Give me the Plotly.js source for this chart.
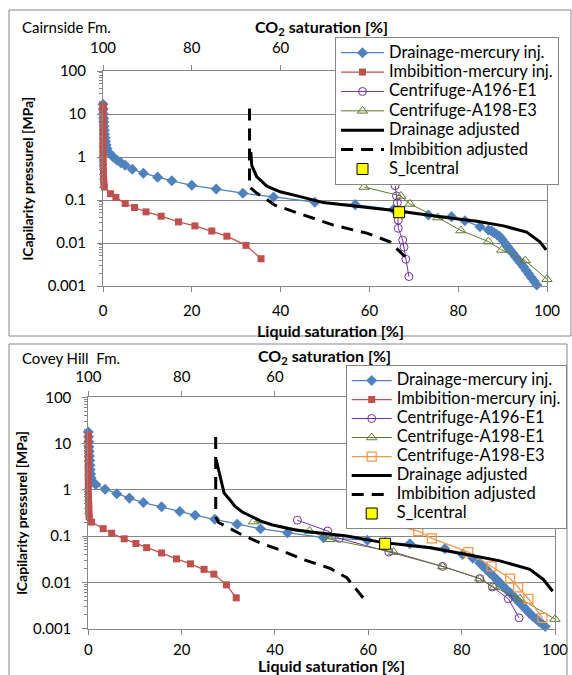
<!DOCTYPE html>
<html>
<head>
<meta charset="utf-8">
<script src="https://cdn.plot.ly/plotly-3.0.1.min.js"></script>
<style>
  html, body { margin: 0; padding: 0; background: #ffffff; }
  #chart { width: 572px; height: 675px; }
</style>
</head>
<body>
<div id="chart"></div>
<script>
// ---------- Cairnside Fm. (upper panel) ----------
const cDrainHgSl = [0.0,0.05,0.1,0.15,0.2,0.25,0.3,0.35,0.45,0.55,0.7,0.9,1.5,2.3,3.1,4.0,5.0,6.6,9.1,12.3,15.5,20.0,25.5,31.5,38.4,47.7,56.8,65.4,73.3,78.5,81.5,84.9,86.8,87.5,88.1,88.7,89.3,89.9,90.5,91.1,91.7,92.3,92.9,93.5,94.1,94.7,95.3,95.9,96.5,97.1,97.7];
const cDrainHgPc = [16.8,13,10,8.0,6.5,5.2,4.2,3.4,2.8,2.3,1.9,1.58,1.22,1.0,0.85,0.74,0.64,0.52,0.42,0.34,0.28,0.22,0.18,0.144,0.118,0.089,0.078,0.060,0.045,0.041,0.033,0.024,0.020,0.019,0.0174,0.0158,0.0144,0.0120,0.0100,0.0083,0.0069,0.0058,0.0048,0.0040,0.0034,0.0028,0.0023,0.0019,0.00155,0.0013,0.00105];

const cImbHgSl = [0,0,0,0,0,0,0,0,0,0,0,0,0,0.05,0.05,0.1,0.1,0.15,0.2,0.3,1.7,2.9,5.0,7.1,9.7,13.1,17.0,20.7,24.5,27.9,32.2,35.6];
const cImbHgPc = [15.4,12,9.5,7.5,6,4.8,3.8,3.0,2.4,1.9,1.5,1.2,0.95,0.75,0.6,0.48,0.38,0.3,0.24,0.2,0.14,0.115,0.083,0.067,0.053,0.042,0.031,0.025,0.019,0.0144,0.0088,0.0043];

const cA196E1Sl = [65.8,66.1,66.3,66.4,66.5,66.5,67.5,67.8,68.2,68.9];
const cA196E1Pc = [0.215,0.124,0.087,0.052,0.034,0.022,0.0117,0.008,0.0042,0.00166];

const cA198E3Sl = [58.8,67.1,69.1,75.4,80.6,86.8,89.8,95.1,100];
const cA198E3Pc = [0.20,0.124,0.081,0.039,0.0195,0.0108,0.0069,0.0039,0.00144];

const cDrainAdjSl = [33.3,33.5,34.6,36.9,39.9,42.1,44.4,49.6,57.1,66.1,75.9,84.2,90.2,95.4,98.4,99.8];
const cDrainAdjPc = [1.3,0.64,0.35,0.21,0.155,0.138,0.12,0.087,0.072,0.056,0.041,0.032,0.025,0.018,0.0107,0.0069];

const cImbAdjSl = [33.0,33.0,34.6,36.5,38.7,43.2,51.9,59.4,64.6,68.4];
const cImbAdjPc = [13.5,0.2,0.145,0.11,0.076,0.053,0.026,0.017,0.0107,0.0044];

const cCentralSl = [66.7];
const cCentralPc = [0.052];

// ---------- Covey Hill Fm. (lower panel) ----------
const vDrainHgSl = [0,0.05,0.1,0.15,0.2,0.25,0.3,0.35,0.4,0.5,0.6,0.8,1.6,3.6,6.1,8.8,11.8,15.7,19.6,22.9,27.1,31.9,36.9,42.7,50.4,59.8,63.6,68.9,76.4,80.2,82.4,83.9,84.6,85.3,86.0,86.8,87.5,88.2,88.9,89.6,90.4,91.1,91.8,92.5,93.2,93.9,94.6,95.3,96.0,96.6,97.3,97.9];
const vDrainHgPc = [17.8,14,11,8.5,6.8,5.4,4.3,3.4,2.7,2.2,1.8,1.5,1.3,1.03,0.82,0.66,0.53,0.43,0.34,0.28,0.23,0.18,0.144,0.118,0.092,0.081,0.072,0.068,0.053,0.040,0.033,0.026,0.022,0.019,0.016,0.0135,0.0115,0.0097,0.0082,0.0069,0.0059,0.0050,0.0042,0.0035,0.0030,0.0025,0.0021,0.0018,0.0016,0.0014,0.00125,0.0011];

const vImbHgSl = [0,0,0,0,0,0,0,0,0,0,0,0,0,0.05,0.05,0.1,0.1,0.15,0.2,0.7,3.2,5.0,7.7,10.2,12.5,15.7,18.9,21.9,24.8,26.9,29.6,31.7];
const vImbHgPc = [15,12,9.5,7.5,6,4.8,3.8,3.0,2.4,1.9,1.5,1.2,0.95,0.75,0.6,0.48,0.38,0.3,0.26,0.20,0.144,0.115,0.087,0.069,0.056,0.043,0.032,0.025,0.019,0.015,0.0088,0.0046];

const vA196E1Sl = [44.8,51.3,53.8,64.4,75.9,83.9,86.6,90.0,92.3];
const vA196E1Pc = [0.22,0.128,0.089,0.045,0.022,0.012,0.0079,0.0044,0.0017];

const vA198E1Sl = [35.4,47.4,51.8,65.4,75.9,83.9,87.0,92.5,100];
const vA198E1Pc = [0.205,0.128,0.085,0.045,0.022,0.012,0.0078,0.0044,0.0016];

const vA198E3Sl = [60.5,70.7,73.6,81.4,86.4,90.4,92.1,94.3,97.3];
const vA198E3Pc = [0.22,0.128,0.089,0.045,0.022,0.012,0.0078,0.0044,0.0017];

const vDrainAdjSl = [27.4,29.1,30.5,31.4,33.0,35.0,37.0,39.3,41.1,44.3,48.2,55.4,63.2,73.2,81.1,88.2,94.6,97.5,99.5];
const vDrainAdjPc = [4.5,0.85,0.58,0.44,0.33,0.26,0.21,0.175,0.16,0.135,0.12,0.1,0.072,0.056,0.040,0.029,0.019,0.0115,0.0064];

const vImbAdjSl = [27.3,27.3,27.9,30.0,32.5,36.8,41.1,46.1,51.8,55.4,58.9];
const vImbAdjPc = [13.9,0.26,0.196,0.149,0.112,0.071,0.05,0.031,0.020,0.0125,0.0046];

const vCentralSl = [63.6];
const vCentralPc = [0.068];

// ---------- names and tick labels ----------
const namesTop = ['Drainage-mercury inj.','Imbibition-mercury inj.','Centrifuge-A196-E1','Centrifuge-A198-E3','Drainage adjusted','Imbibition adjusted','S_lcentral'];
const namesBottom = ['Drainage-mercury inj.','Imbibition-mercury inj.','Centrifuge-A196-E1','Centrifuge-A198-E1','Centrifuge-A198-E3','Drainage adjusted','Imbibition adjusted','S_lcentral'];
const panelLabels = ['Cairnside Fm.', 'Covey Hill\u00a0 Fm.'];
const slTicks = [0, 20, 40, 60, 80, 100];
const co2Ticks = [100, 80, 60];          // the remaining top ticks sit under the legend box
const pcTicks = [0.001, 0.01, 0.1, 1, 10, 100];
const pcTickText = ['0.001', '0.01', '0.1', '1', '10', '100'];
const xTitle = 'Liquid saturation [%]';
const topTitle = 'CO<sub>2</sub> saturation [%]';
const yTitle = 'lCapilarity pressurel [MPa]';

// CO2 saturation is the complement of the liquid saturation
const toCO2 = sl => sl.map(v => 100 - v);

// ---------- styling ----------
const FONT = 'Lato, "Open Sans", sans-serif';
const GREY = '#868686';
const BLUE = '#4F81BD', RED = '#C0504D', PURPLE = '#7030A0', OLIVE = '#5E7A2E', ORANGE = '#F79646';
const W = 572, H = 675;
const LEGEND_TEXT_PX = 16.5;

function entry(name) {
  return '<span style="font-size:' + LEGEND_TEXT_PX + 'px">' + name + '</span>';
}

function style(kind) {
  switch (kind) {
    case 'drainHg': return {mode:'lines+markers', line:{color:BLUE, width:1.25}, marker:{symbol:'diamond', size:8.5, color:BLUE}};
    case 'imbHg':   return {mode:'lines+markers', line:{color:RED, width:1.25}, marker:{symbol:'square', size:7, color:RED}};
    case 'a196':    return {mode:'lines+markers', line:{color:PURPLE, width:1}, marker:{symbol:'circle-open', size:8, color:PURPLE, line:{width:1}}};
    case 'a198g':   return {mode:'lines+markers', line:{color:OLIVE, width:1}, marker:{symbol:'triangle-up-open', size:9, color:OLIVE, line:{width:1}}};
    case 'a198o':   return {mode:'lines+markers', line:{color:ORANGE, width:1.25}, marker:{symbol:'square-open', size:9, color:ORANGE, line:{width:1.25}}};
    case 'drainAdj':return {mode:'lines', line:{color:'#000000', width:3}};
    case 'imbAdj':  return {mode:'lines', line:{color:'#000000', width:3, dash:'12px,8px'}};
    case 'central': return {mode:'markers', marker:{symbol:'square', size:11, color:'#FFFF00', line:{color:'#000000', width:1}}};
  }
}

function trace(x, y, name, kind, xa, ya, legend) {
  return Object.assign({
    type:'scatter', x:x, y:y, name:entry(name), xaxis:xa, yaxis:ya,
    legend:legend, cliponaxis:false, hoverinfo:'skip'
  }, style(kind));
}

const traces = [
  trace(cDrainHgSl, cDrainHgPc, namesTop[0], 'drainHg', 'x', 'y', 'legend'),
  trace(cImbHgSl, cImbHgPc, namesTop[1], 'imbHg', 'x', 'y', 'legend'),
  trace(cA196E1Sl, cA196E1Pc, namesTop[2], 'a196', 'x', 'y', 'legend'),
  trace(cA198E3Sl, cA198E3Pc, namesTop[3], 'a198g', 'x', 'y', 'legend'),
  trace(cDrainAdjSl, cDrainAdjPc, namesTop[4], 'drainAdj', 'x', 'y', 'legend'),
  trace(cImbAdjSl, cImbAdjPc, namesTop[5], 'imbAdj', 'x', 'y', 'legend'),
  // S_lcentral is placed on the CO2-saturation (top) scale
  trace(toCO2(cCentralSl), cCentralPc, namesTop[6], 'central', 'x3', 'y', 'legend'),

  trace(vDrainHgSl, vDrainHgPc, namesBottom[0], 'drainHg', 'x2', 'y2', 'legend2'),
  trace(vImbHgSl, vImbHgPc, namesBottom[1], 'imbHg', 'x2', 'y2', 'legend2'),
  trace(vA196E1Sl, vA196E1Pc, namesBottom[2], 'a196', 'x2', 'y2', 'legend2'),
  trace(vA198E1Sl, vA198E1Pc, namesBottom[3], 'a198g', 'x2', 'y2', 'legend2'),
  trace(vA198E3Sl, vA198E3Pc, namesBottom[4], 'a198o', 'x2', 'y2', 'legend2'),
  trace(vDrainAdjSl, vDrainAdjPc, namesBottom[5], 'drainAdj', 'x2', 'y2', 'legend2'),
  trace(vImbAdjSl, vImbAdjPc, namesBottom[6], 'imbAdj', 'x2', 'y2', 'legend2'),
  trace(toCO2(vCentralSl), vCentralPc, namesBottom[7], 'central', 'x4', 'y2', 'legend2')
];

// minor ticks of the log axis: 2..9 within every decade
const minorPc = [];
for (let d = -3; d < 2; d++) {
  for (let k = 2; k <= 9; k++) minorPc.push(k * Math.pow(10, d));
}

const tickFont = {family:FONT, size:15, color:'#000000'};
const titleFont = {family:FONT, size:16, color:'#000000', weight:'bold'};
const yTitleFont = {family:FONT, size:14, color:'#000000', weight:'bold'};
const labelFont = {family:FONT, size:15, color:'#000000'};

function slAxis(domain, anchor, labelGap) {
  return {
    domain:domain, anchor:anchor, range:[0,100], tickmode:'array', tickvals:slTicks,
    ticktext:slTicks.map(String), showline:true, linecolor:GREY, linewidth:1,
    ticks:'outside', ticklen:5, tickcolor:GREY, showgrid:false, zeroline:false,
    tickfont:tickFont, ticklabelstandoff:labelGap, fixedrange:true
  };
}
function co2Axis(over, anchor, labelGap) {
  return {
    overlaying:over, anchor:anchor, side:'top', range:[100,0], tickmode:'array',
    tickvals:co2Ticks, ticktext:co2Ticks.map(String), showline:true, linecolor:GREY,
    linewidth:1, ticks:'outside', ticklen:5, tickcolor:GREY, showgrid:false,
    zeroline:false, tickfont:tickFont, ticklabelstandoff:labelGap, fixedrange:true
  };
}
function pcAxis(domain, anchor, standoff) {
  return {
    domain:domain, anchor:anchor, type:'log', range:[-3,2], tickmode:'array',
    tickvals:pcTicks, ticktext:pcTickText, showline:true, mirror:true,
    linecolor:GREY, linewidth:1, ticks:'outside', ticklen:5, tickcolor:GREY,
    showgrid:true, gridcolor:GREY, gridwidth:1, zeroline:false, tickfont:tickFont,
    ticklabelstandoff:8, fixedrange:true,
    minor:{tickmode:'array', tickvals:minorPc, ticks:'outside', ticklen:3, tickcolor:GREY, showgrid:false},
    title:{text:yTitle, font:yTitleFont, standoff:standoff}
  };
}

function note(text, x, y, font) {
  return {text:text, xref:'paper', yref:'paper', x:x, y:y, xanchor:'left', yanchor:'middle', showarrow:false, font:font};
}
function centredNote(text, x, y, font) {
  return {text:text, xref:'paper', yref:'paper', x:x, y:y, xanchor:'center', yanchor:'middle', showarrow:false, font:font};
}

const layout = {
  width:W, height:H, margin:{l:0, r:0, t:0, b:0},
  paper_bgcolor:'#ffffff', plot_bgcolor:'#ffffff',
  font:{family:FONT, color:'#000000'},
  xaxis:  slAxis([103/W, 547/W], 'y', 6),
  yaxis:  pcAxis([1-286/H, 1-71/H], 'x', 10),
  xaxis3: co2Axis('x', 'y', 6),
  xaxis2: slAxis([88.3/W, 555/W], 'y2', 2),
  yaxis2: pcAxis([1-628.5/H, 1-397.3/H], 'x2', 2),
  xaxis4: co2Axis('x2', 'y2', 3),
  legend:{x:335/W, y:1-37/H, xanchor:'left', yanchor:'top', bgcolor:'#ffffff',
          bordercolor:GREY, borderwidth:1, font:{family:FONT, size:12.6, color:'#000000'},
          itemwidth:43, tracegroupgap:0},
  legend2:{x:345.7/W, y:1-365/H, xanchor:'left', yanchor:'top', bgcolor:'#ffffff',
          bordercolor:GREY, borderwidth:1, font:{family:FONT, size:11.8, color:'#000000'},
          itemwidth:40, tracegroupgap:0},
  annotations:[
    note(panelLabels[0], 20/W, 1-27/H, labelFont),
    note(panelLabels[1], 20/W, 1-358/H, labelFont),
    centredNote(topTitle, 321/W, 1-27/H, titleFont),
    centredNote(topTitle, 324.5/W, 1-356/H, titleFont),
    centredNote(xTitle, 330.5/W, 1-330/H, titleFont),
    centredNote(xTitle, 331/W, 1-665/H, titleFont)
  ],
  shapes:[
    {type:'rect', xref:'paper', yref:'paper', x0:9/W, x1:571/W, y0:1-336/H, y1:1-10/H, line:{color:GREY, width:1}},
    {type:'rect', xref:'paper', yref:'paper', x0:9/W, x1:567/W, y0:-0.05, y1:1-344/H, line:{color:GREY, width:1}}
  ]
};

Plotly.newPlot('chart', traces, layout, {displayModeBar:false, staticPlot:true});
</script>
</body>
</html>
